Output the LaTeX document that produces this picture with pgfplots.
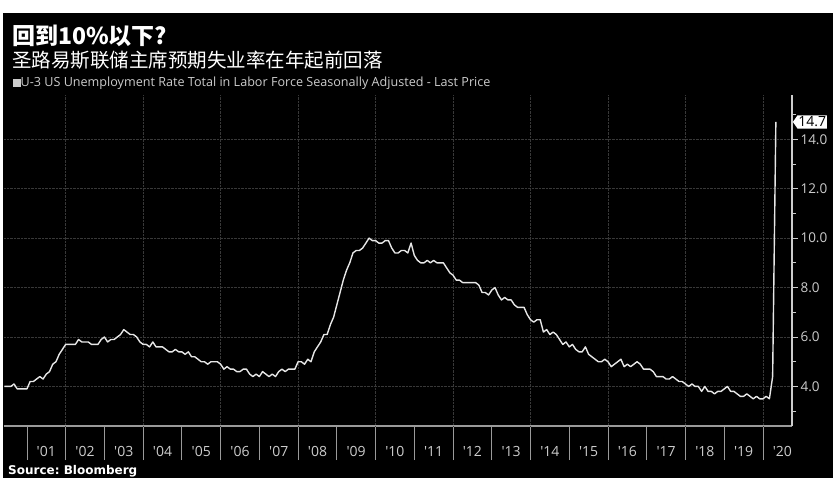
\documentclass[border=0pt]{standalone}
\usepackage{pgfplots}
\pgfplotsset{compat=1.18}
\usepackage{fontspec}
\setmainfont{Open Sans}
\newfontfamily\cjk{Noto Sans CJK SC}
\newfontfamily\srcfont{DejaVu Sans}
\usetikzlibrary{shapes.symbols}

\definecolor{tickgray}{HTML}{CCCCCC}
\definecolor{gridgray}{HTML}{383838}
\definecolor{linegray}{HTML}{E6E6E6}
\definecolor{axisgray}{HTML}{9A9A9A}

\begin{document}
\begin{tikzpicture}[x=1pt,y=1pt]
% page and dark panel (pixel units, y measured from the bottom)
\fill[white] (0,0) rectangle (835,485);
\fill[black] (3,7) rectangle (833,472);

\node[anchor=base west, inner sep=0, text=white, font=\cjk\bfseries\fontsize{23}{25}\selectfont] at (12,440) {回到10\%以下?};
\node[anchor=base west, inner sep=0, text=white, font=\cjk\fontsize{19.5}{22}\selectfont] at (12,417) {圣路易斯联储主席预期失业率在年起前回落};
\node[anchor=base west, inner sep=0, text=tickgray, font=\fontsize{12.6}{14}\selectfont] at (13,398) {\rule{7.5pt}{7.5pt}U-3 US Unemployment Rate Total in Labor Force Seasonally Adjusted - Last Price};
\node[anchor=base west, inner sep=0, text=white, font=\srcfont\bfseries\fontsize{12}{13}\selectfont] at (8,11) {Source:\ Bloomberg};

\begin{axis}[
    at={(4pt,59pt)}, anchor=south west,
    scale only axis,
    width=788pt, height=331pt,
    xmin=4.9, xmax=249,
    ymin=2.40, ymax=15.79,
    axis x line*=bottom,
    axis y line*=right,
    x axis line style={axisgray, line width=1.2pt, -},
    y axis line style={tickgray, line width=1.2pt, -},
    tick align=outside,
    xtick={18,30,...,246},
    xticklabels={\textquotesingle01,\textquotesingle02,\textquotesingle03,\textquotesingle04,\textquotesingle05,\textquotesingle06,\textquotesingle07,\textquotesingle08,\textquotesingle09,\textquotesingle10,\textquotesingle11,\textquotesingle12,\textquotesingle13,\textquotesingle14,\textquotesingle15,\textquotesingle16,\textquotesingle17,\textquotesingle18,\textquotesingle19,\textquotesingle20},
    major x tick style={draw=none},
    minor xtick={12,24,...,240},
    minor x tick style={axisgray, line width=0.8pt},
    xticklabel style={text=tickgray, font=\fontsize{14}{16}\selectfont, yshift=-11pt},
    ytick={4,6,...,14},
    minor ytick={3,5,...,15},
    yticklabel style={text=tickgray, font=\fontsize{13.5}{16}\selectfont, xshift=-1pt},
    y tick style={tickgray, line width=0.8pt},
    major tick length=6pt,
    minor tick length=4pt,
    /pgfplots/minor x tick style={/pgfplots/minor tick length=34pt},
    /pgf/number format/.cd, fixed, fixed zerofill, precision=1, assume math mode=true,
    /pgfplots/.cd,
    ymajorgrids,
    grid style={gridgray, densely dotted, line width=0.8pt},
    extra x ticks={24,48,...,240},
    extra x tick labels={},
    extra x tick style={xmajorgrids, major x tick style={draw=none}},
    clip mode=individual,
]
\addplot[linegray, line width=1.4pt, line join=round] coordinates {
(5,4.0) (6,4.0) (7,4.0) (8,4.1) (9,3.9) (10,3.9) (11,3.9) (12,3.9)
(13,4.2) (14,4.2) (15,4.3) (16,4.4) (17,4.3) (18,4.5) (19,4.6) (20,4.9) (21,5.0) (22,5.3) (23,5.5) (24,5.7)
(25,5.7) (26,5.7) (27,5.7) (28,5.9) (29,5.8) (30,5.8) (31,5.8) (32,5.7) (33,5.7) (34,5.7) (35,5.9) (36,6.0)
(37,5.8) (38,5.9) (39,5.9) (40,6.0) (41,6.1) (42,6.3) (43,6.2) (44,6.1) (45,6.1) (46,6.0) (47,5.8) (48,5.7)
(49,5.7) (50,5.6) (51,5.8) (52,5.6) (53,5.6) (54,5.6) (55,5.5) (56,5.4) (57,5.4) (58,5.5) (59,5.4) (60,5.4)
(61,5.3) (62,5.4) (63,5.2) (64,5.2) (65,5.1) (66,5.0) (67,5.0) (68,4.9) (69,5.0) (70,5.0) (71,5.0) (72,4.9)
(73,4.7) (74,4.8) (75,4.7) (76,4.7) (77,4.6) (78,4.6) (79,4.7) (80,4.7) (81,4.5) (82,4.4) (83,4.5) (84,4.4)
(85,4.6) (86,4.5) (87,4.4) (88,4.5) (89,4.4) (90,4.6) (91,4.7) (92,4.6) (93,4.7) (94,4.7) (95,4.7) (96,5.0)
(97,5.0) (98,4.9) (99,5.1) (100,5.0) (101,5.4) (102,5.6) (103,5.8) (104,6.1) (105,6.1) (106,6.5) (107,6.8) (108,7.3)
(109,7.8) (110,8.3) (111,8.7) (112,9.0) (113,9.4) (114,9.5) (115,9.5) (116,9.6) (117,9.8) (118,10.0) (119,9.9) (120,9.9)
(121,9.8) (122,9.8) (123,9.9) (124,9.9) (125,9.6) (126,9.4) (127,9.4) (128,9.5) (129,9.5) (130,9.4) (131,9.8) (132,9.3)
(133,9.1) (134,9.0) (135,9.0) (136,9.1) (137,9.0) (138,9.1) (139,9.0) (140,9.0) (141,9.0) (142,8.8) (143,8.6) (144,8.5)
(145,8.3) (146,8.3) (147,8.2) (148,8.2) (149,8.2) (150,8.2) (151,8.2) (152,8.1) (153,7.8) (154,7.8) (155,7.7) (156,7.9)
(157,8.0) (158,7.7) (159,7.5) (160,7.6) (161,7.5) (162,7.5) (163,7.3) (164,7.2) (165,7.2) (166,7.2) (167,6.9) (168,6.7)
(169,6.6) (170,6.7) (171,6.7) (172,6.2) (173,6.3) (174,6.1) (175,6.2) (176,6.1) (177,5.9) (178,5.7) (179,5.8) (180,5.6)
(181,5.7) (182,5.5) (183,5.4) (184,5.4) (185,5.6) (186,5.3) (187,5.2) (188,5.1) (189,5.0) (190,5.0) (191,5.1) (192,5.0)
(193,4.8) (194,4.9) (195,5.0) (196,5.1) (197,4.8) (198,4.9) (199,4.8) (200,4.9) (201,5.0) (202,4.9) (203,4.7) (204,4.7)
(205,4.7) (206,4.6) (207,4.4) (208,4.4) (209,4.4) (210,4.3) (211,4.3) (212,4.4) (213,4.3) (214,4.2) (215,4.2) (216,4.1)
(217,4.0) (218,4.1) (219,4.0) (220,4.0) (221,3.8) (222,4.0) (223,3.8) (224,3.8) (225,3.7) (226,3.8) (227,3.8) (228,3.9)
(229,4.0) (230,3.8) (231,3.8) (232,3.7) (233,3.6) (234,3.6) (235,3.7) (236,3.6) (237,3.5) (238,3.6) (239,3.5) (240,3.5)
(241,3.6) (242,3.5) (243,4.4) (244,14.7)
};
\node[signal, signal to=west, signal pointer angle=110, fill=white, text=black, inner xsep=0.8pt, inner ysep=1.5pt,
      anchor=west, font=\fontsize{14}{16}\selectfont] at (axis cs:249.2,14.7) {14.7};
\end{axis}
\end{tikzpicture}
\end{document}
